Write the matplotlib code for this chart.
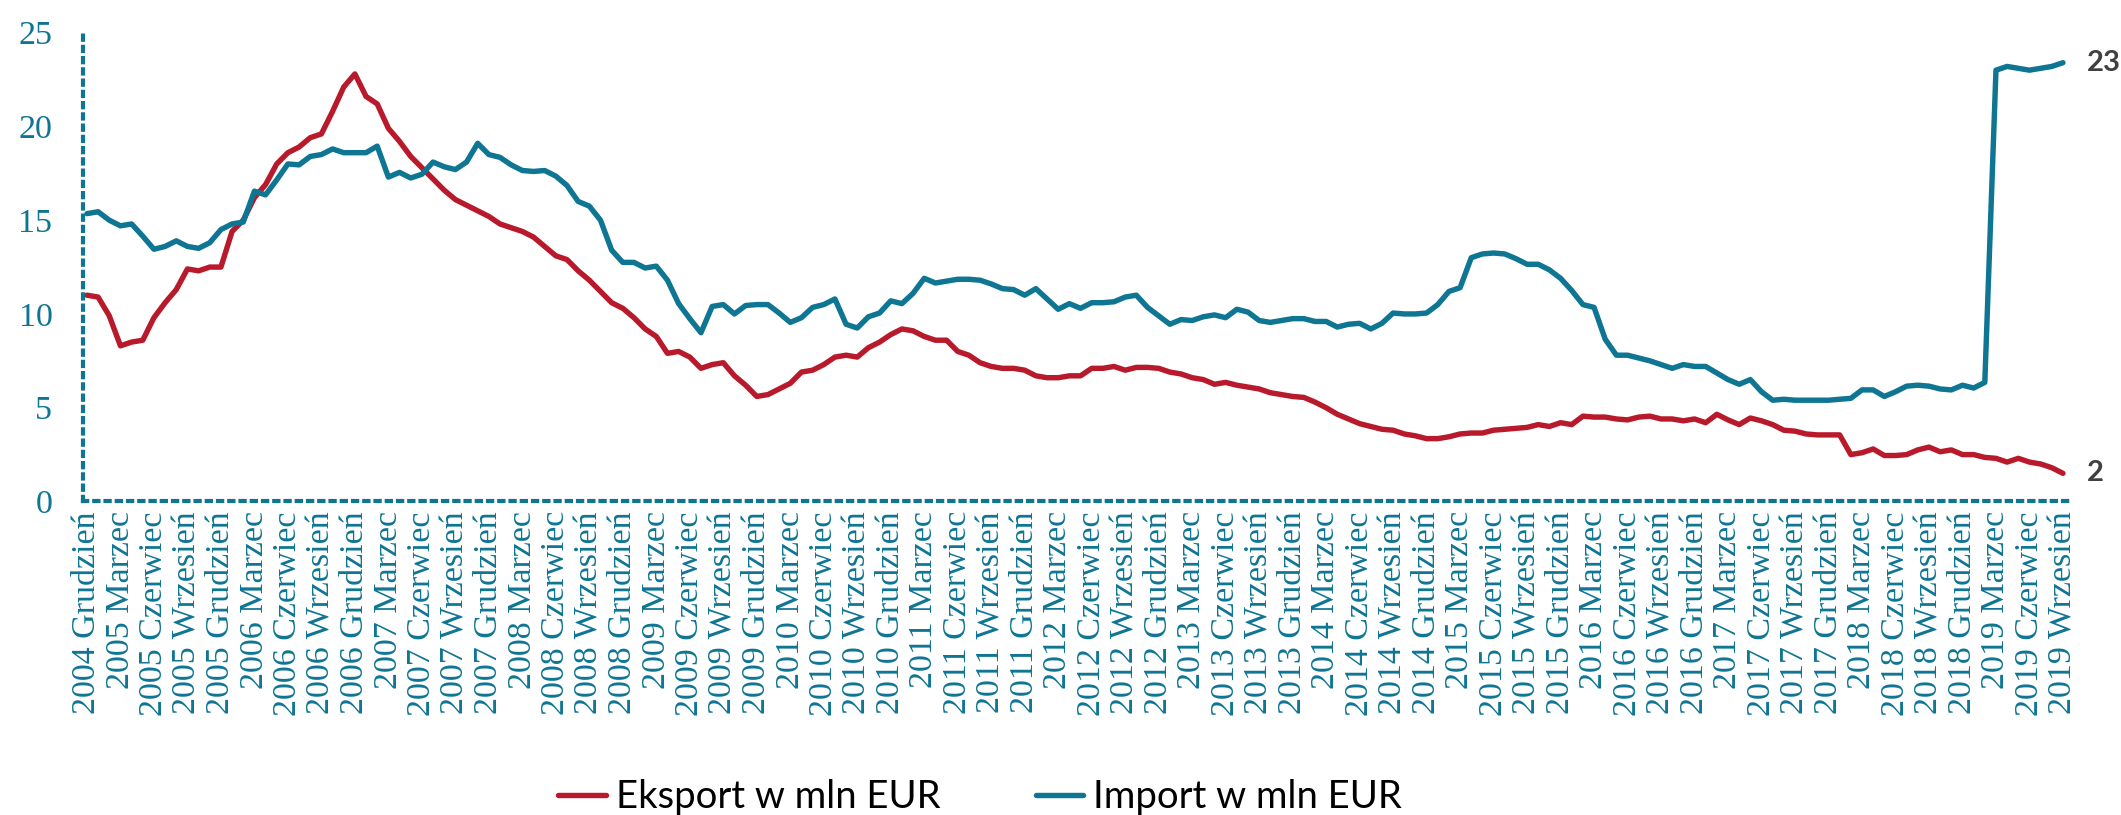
import numpy as np
import matplotlib.pyplot as plt

# monthly values, 2004 Grudzień .. 2019 Wrzesień (mln EUR)
eksport = [
    11.0, 10.9, 9.9, 8.3, 8.5, 8.6, 9.8, 10.6, 11.3, 12.4, 12.3, 12.5, 12.5, 14.4, 15.0,
    16.2, 16.9, 18.0, 18.6, 18.9, 19.4, 19.6, 20.8, 22.1, 22.8, 21.6, 21.2, 19.9, 19.2, 18.4,
    17.8, 17.2, 16.6, 16.1, 15.8, 15.5, 15.2, 14.8, 14.6, 14.4, 14.1, 13.6, 13.1, 12.9, 12.3,
    11.8, 11.2, 10.6, 10.3, 9.8, 9.2, 8.8, 7.9, 8.0, 7.7, 7.1, 7.3, 7.4, 6.7, 6.2,
    5.6, 5.7, 6.0, 6.3, 6.9, 7.0, 7.3, 7.7, 7.8, 7.7, 8.2, 8.5, 8.9, 9.2, 9.1,
    8.8, 8.6, 8.6, 8.0, 7.8, 7.4, 7.2, 7.1, 7.1, 7.0, 6.7, 6.6, 6.6, 6.7, 6.7,
    7.1, 7.1, 7.2, 7.0, 7.15, 7.15, 7.1, 6.9, 6.8, 6.6, 6.5, 6.25, 6.35, 6.2, 6.1,
    6.0, 5.8, 5.7, 5.6, 5.55, 5.3, 5.0, 4.65, 4.4, 4.15, 4.0, 3.85, 3.8, 3.6,
    3.5, 3.35, 3.35, 3.45, 3.6, 3.65, 3.65, 3.8, 3.85, 3.9, 3.95, 4.1, 4.0, 4.2, 4.1,
    4.55, 4.5, 4.5, 4.4, 4.35, 4.5, 4.55, 4.4, 4.4, 4.3, 4.4, 4.2, 4.65, 4.35, 4.1,
    4.45, 4.3, 4.1, 3.8, 3.75, 3.6, 3.55, 3.55, 3.55, 2.5, 2.6, 2.8, 2.45, 2.45, 2.5,
    2.75, 2.9, 2.65, 2.75, 2.5, 2.5, 2.35, 2.3, 2.1, 2.3, 2.1, 2.0, 1.8, 1.5,
]
import_ = [
    15.35, 15.45, 15.0, 14.7, 14.8, 14.15, 13.45, 13.6, 13.9, 13.6, 13.5, 13.8, 14.5, 14.8, 14.9,
    16.55, 16.35, 17.15, 18.0, 17.95, 18.4, 18.5, 18.8, 18.6, 18.6, 18.6, 18.95, 17.3, 17.55, 17.25,
    17.45, 18.1, 17.85, 17.7, 18.1, 19.1, 18.5, 18.35, 17.95, 17.65, 17.6, 17.65, 17.35, 16.85, 16.0,
    15.75, 15.0, 13.4, 12.75, 12.75, 12.45, 12.55, 11.8, 10.55, 9.75, 9.0, 10.4, 10.5, 10.0, 10.45,
    10.5, 10.5, 10.05, 9.55, 9.8, 10.35, 10.5, 10.8, 9.45, 9.25, 9.85, 10.05, 10.7, 10.55, 11.1,
    11.9, 11.65, 11.75, 11.85, 11.85, 11.8, 11.6, 11.35, 11.3, 11.0, 11.35, 10.8, 10.25, 10.55, 10.3,
    10.6, 10.6, 10.65, 10.9, 11.0, 10.35, 9.9, 9.45, 9.7, 9.65, 9.85, 9.95, 9.8, 10.25, 10.1,
    9.65, 9.55, 9.65, 9.75, 9.75, 9.6, 9.6, 9.3, 9.45, 9.5, 9.2, 9.5, 10.05, 10.0,
    10.0, 10.05, 10.5, 11.2, 11.4, 13.0, 13.2, 13.25, 13.2, 12.95, 12.65, 12.65, 12.35, 11.9, 11.25,
    10.5, 10.35, 8.65, 7.8, 7.8, 7.65, 7.5, 7.3, 7.1, 7.3, 7.2, 7.2, 6.85, 6.5, 6.25,
    6.5, 5.85, 5.4, 5.45, 5.4, 5.4, 5.4, 5.4, 5.45, 5.5, 5.95, 5.95, 5.6, 5.85, 6.15,
    6.2, 6.15, 6.0, 5.95, 6.2, 6.05, 6.35, 23.0, 23.2, 23.1, 23.0, 23.1, 23.2, 23.4,
]

# tick labels every third month
lata = list(range(2005, 2020))
miesiace = ['Marzec', 'Czerwiec', 'Wrzesień', 'Grudzień']
etykiety = ['2004 Grudzień'] + ['{} {}'.format(r, m) for r in lata for m in miesiace]
etykiety = etykiety[:len(eksport[::3])]

RED = '#B81A2C'
BLUE = '#0E7593'

fig = plt.figure(figsize=(21.21, 8.15), dpi=100)
ax = fig.add_axes([0.0391, 0.3847, 0.9359, 0.5752])

x = np.arange(len(eksport))
ax.plot(x, eksport, color=RED, lw=3.9, solid_joinstyle='round', solid_capstyle='round',
        label='Eksport w mln EUR')
ax.plot(x, import_, color=BLUE, lw=3.9, solid_joinstyle='round', solid_capstyle='round',
        label='Import w mln EUR')

ax.set_xlim(-0.36, 177.45)
ax.set_ylim(0, 25)
ax.set_yticks([0, 5, 10, 15, 20, 25])
ax.set_xticks(x[::3])
ax.set_xticklabels(etykiety, rotation=90, va='top', ha='center')

for t in ax.get_xticklabels() + ax.get_yticklabels():
    t.set_family('Liberation Serif')
    t.set_fontsize(24.5)
    t.set_color(BLUE)
ax.tick_params(axis='y', length=0, pad=22)
ax.tick_params(axis='x', length=0, pad=7)

for s in ['top', 'right']:
    ax.spines[s].set_visible(False)
for s in ['left', 'bottom']:
    ax.spines[s].set_color(BLUE)
    ax.spines[s].set_linewidth(3.0)
    ax.spines[s].set_linestyle((0, (1, 1.7)))

# end values
for seria, kol in [(import_, BLUE), (eksport, RED)]:
    ax.annotate('{}'.format(round(seria[-1])), xy=(x[-1], seria[-1]), xytext=(17, 0),
                textcoords='offset points', va='center', ha='left', fontsize=21,
                fontweight='bold', color='#404040', family='Lato', annotation_clip=False)

fig.legend(loc='center', bbox_to_anchor=(0.462, 0.022), ncol=2, frameon=False,
           prop={'family': 'Lato', 'size': 27.5}, handlelength=1.25, handletextpad=0.25,
           columnspacing=2.5, borderpad=0)

plt.savefig('out.png', dpi=100)
